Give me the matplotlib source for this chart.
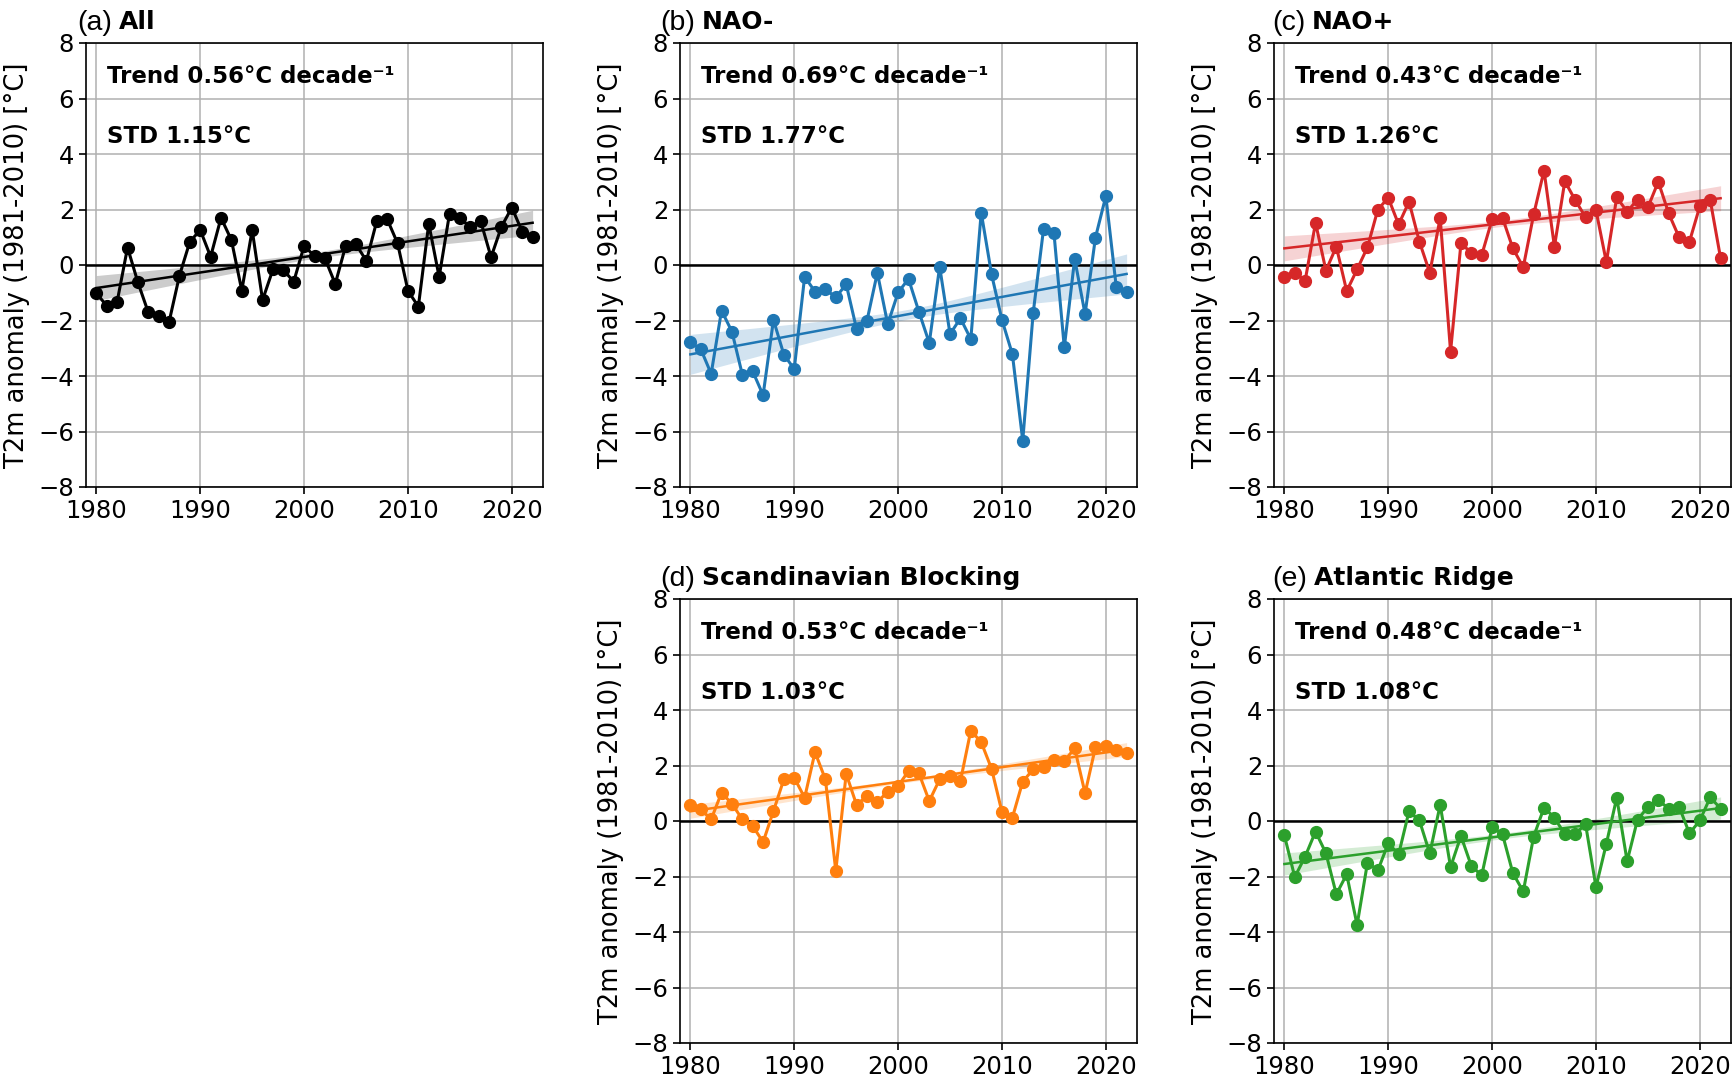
import numpy as np
import matplotlib
matplotlib.use('Agg')
import matplotlib.pyplot as plt

# years 1980-2022
years = list(range(1980, 2023))

t2m_all = [-1.02, -1.47, -1.32, 0.63, -0.63, -1.71, -1.82, -2.05, -0.38, 0.84, 1.26,
           0.30, 1.70, 0.90, -0.92, 1.26, -1.26, -0.16, -0.18, -0.60, 0.69,
           0.32, 0.24, -0.68, 0.69, 0.74, 0.15, 1.59, 1.65, 0.78, -0.93,
           -1.50, 1.49, -0.43, 1.85, 1.68, 1.37, 1.58, 0.28, 1.38, 2.07, 1.20, 1.00]
t2m_nao_minus = [-2.79, -3.03, -3.92, -1.64, -2.40, -3.95, -3.83, -4.69, -1.98, -3.23, -3.75,
                 -0.42, -0.96, -0.87, -1.17, -0.69, -2.31, -2.01, -0.28, -2.13, -0.99,
                 -0.50, -1.68, -2.81, -0.06, -2.49, -1.92, -2.67, 1.89, -0.34, -1.98,
                 -3.21, -6.33, -1.74, 1.29, 1.17, -2.97, 0.22, -1.77, 0.99, 2.48, -0.78, -0.99]
t2m_nao_plus = [-0.44, -0.28, -0.56, 1.52, -0.20, 0.66, -0.94, -0.16, 0.64, 2.00, 2.42,
                1.46, 2.28, 0.84, -0.28, 1.70, -3.12, 0.78, 0.44, 0.36, 1.64,
                1.70, 0.60, -0.08, 1.82, 3.40, 0.66, 3.02, 2.34, 1.72, 1.98,
                0.10, 2.44, 1.92, 2.36, 2.08, 3.00, 1.86, 1.00, 0.84, 2.12, 2.34, 0.24]
t2m_scand_block = [0.58, 0.42, 0.06, 1.02, 0.62, 0.06, -0.18, -0.76, 0.36, 1.50, 1.56,
                   0.84, 2.48, 1.50, -1.80, 1.70, 0.58, 0.90, 0.68, 1.06, 1.26,
                   1.80, 1.72, 0.72, 1.50, 1.62, 1.44, 3.26, 2.84, 1.88, 0.32,
                   0.12, 1.42, 1.86, 1.93, 2.20, 2.16, 2.62, 1.00, 2.66, 2.70, 2.56, 2.46]
t2m_atl_ridge = [-0.52, -2.02, -1.28, -0.38, -1.16, -2.64, -1.92, -3.75, -1.50, -1.78, -0.80,
                 -1.20, 0.35, 0.02, -1.17, 0.58, -1.66, -0.54, -1.62, -1.96, -0.22,
                 -0.48, -1.88, -2.54, -0.56, 0.48, 0.12, -0.48, -0.46, -0.12, -2.38,
                 -0.82, 0.84, -1.45, 0.05, 0.50, 0.75, 0.45, 0.52, -0.45, 0.02, 0.85, 0.45]

panel_letters = ['(a)', '(b)', '(c)', '(d)', '(e)']
panel_names = ['All', 'NAO-', 'NAO+', 'Scandinavian Blocking', 'Atlantic Ridge']
trend_per_decade = [0.56, 0.69, 0.43, 0.53, 0.48]
std_values = [1.15, 1.77, 1.26, 1.03, 1.08]
# trend line value in 1980 and half width of the shaded band at the ends
trend_1980 = [-0.83, -3.22, 0.60, 0.35, -1.55]
band_halfwidth = [0.45, 0.72, 0.45, 0.25, 0.40]
series = [t2m_all, t2m_nao_minus, t2m_nao_plus, t2m_scand_block, t2m_atl_ridge]
colors = ['black', '#1f77b4', '#d62728', '#ff7f0e', '#2ca02c']

W, H = 1735, 1080
# axes boxes in pixels: left, top
boxes = [(86, 43), (680, 43), (1274, 43), (680, 599), (1274, 599)]
letter_dx = [-9, -20, -2, -20, -2]
ax_w, ax_h = 457, 444

fig = plt.figure(figsize=(W / 100, H / 100), dpi=100)

for i in range(5):
    left, top = boxes[i]
    ax = fig.add_axes([left / W, 1 - (top + ax_h) / H, ax_w / W, ax_h / H])
    x = np.array(years, dtype=float)
    y = np.array(series[i])
    c = colors[i]

    # trend line and its uncertainty band
    fit = trend_1980[i] + trend_per_decade[i] / 10 * (x - 1980)
    xc = x.mean()
    shape = np.hypot(0.25, (x - xc) / (x[0] - xc)) / np.hypot(0.25, 1.0)
    hw = band_halfwidth[i] * shape
    ax.fill_between(x, fit - hw, fit + hw, color=c, alpha=0.2, lw=0, zorder=2)
    ax.plot(x, fit, color=c, lw=1.8, zorder=3)

    ax.axhline(0, color='black', lw=1.8, zorder=2.5)
    ax.plot(x, y, '-o', color=c, lw=2.2, ms=8.5, zorder=4)

    ax.set_xlim(1979, 2023)
    ax.set_ylim(-8, 8)
    ax.set_xticks([1980, 1990, 2000, 2010, 2020])
    ax.set_yticks(range(-8, 9, 2))
    ax.tick_params(labelsize=17.5, length=5, width=1.2)
    ax.grid(True, color='#b0b0b0', lw=1.1, zorder=0)
    ax.set_axisbelow(True)
    for sp in ax.spines.values():
        sp.set_linewidth(1.2)
    ax.set_ylabel('T2m anomaly (1981-2010) [°C]', fontsize=18.5, labelpad=6)

    ax.text(0.047, 0.925, 'Trend %.2f°C decade⁻¹' % trend_per_decade[i], transform=ax.transAxes,
            fontsize=16.5, fontweight='bold', va='center', ha='left')
    ax.text(0.047, 0.79, 'STD %.2f°C' % std_values[i], transform=ax.transAxes,
            fontsize=16.5, fontweight='bold', va='center', ha='left')

    lt = ax.text(letter_dx[i] / ax_w, 1.015, panel_letters[i], transform=ax.transAxes,
                 fontsize=20.5, family='Liberation Sans', va='bottom', ha='left')
    ax.annotate(panel_names[i], xy=(1, 0), xycoords=lt, xytext=(5, 1.5),
                textcoords='offset points', fontsize=18, fontweight='bold',
                va='bottom', ha='left')

fig.savefig('out.png', dpi=100)
plt.close(fig)
